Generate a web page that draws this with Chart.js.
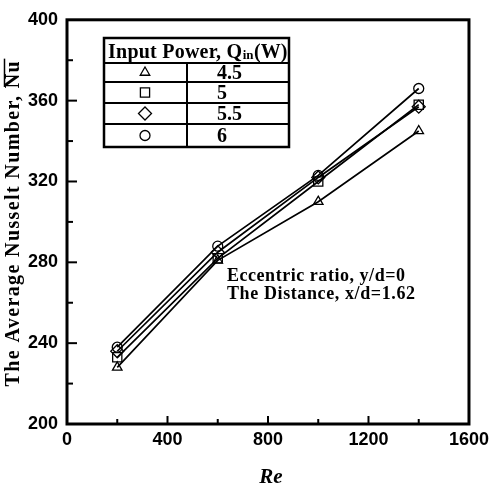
<!DOCTYPE html>
<html>
<head>
<meta charset="utf-8">
<script src="https://cdn.jsdelivr.net/npm/chart.js@4.4.1/dist/chart.umd.min.js"></script>
<style>
  html, body { margin: 0; padding: 0; background: #fff; }
  #wrap { width: 494px; height: 489px; position: relative; }
</style>
</head>
<body>
<div id="wrap"><canvas id="c"></canvas></div>
<script>
// ---- data ----
const reValues = [200, 600, 1000, 1400];
const qLabels = ['4.5', '5', '5.5', '6'];
const nu45 = [228, 281, 310, 345];
const nu5 = [233, 282, 320, 358];
const nu55 = [236, 285, 322, 357];
const nu6 = [238, 288, 323, 366];
const pointStyles = ['triangle', 'rect', 'rectRot', 'circle'];
const xTickValues = [0, 400, 800, 1200, 1600];
const yTickValues = [200, 240, 280, 320, 360, 400];
const yTitle = 'The Average Nusselt Number, ';
const yTitleBar = 'Nu';
const xTitle = 'Re';
const legendHeader = ['Input Power, Q', 'in', '(W)'];
const noteLines = ['Eccentric ratio, y/d=0', 'The Distance, x/d=1.62'];

const seriesValues = [nu45, nu5, nu55, nu6];
const radii = [5.5, 6.5, 6.5, 5];

const datasets = seriesValues.map((vals, i) => ({
  label: qLabels[i],
  data: reValues.map((x, j) => ({ x: x, y: vals[j] })),
  borderColor: '#000',
  borderWidth: 1.7,
  backgroundColor: '#fff',
  pointStyle: pointStyles[i],
  pointRadius: radii[i],
  pointBorderWidth: 1.3,
  pointBackgroundColor: 'rgba(255,255,255,0)',
  pointBorderColor: '#000',
  tension: 0,
  fill: false
}));

function fitText(ctx, text, x, y, target) {
  ctx.letterSpacing = '0px';
  const w = ctx.measureText(text).width;
  let ls = 0;
  if (target && text.length > 1) ls = (target - w) / (text.length - 1);
  ctx.letterSpacing = ls + 'px';
  ctx.fillText(text, x, y);
  const outW = ctx.measureText(text).width;
  ctx.letterSpacing = '0px';
  return outW;
}

const decorPlugin = {
  id: 'decor',
  afterDraw(chart) {
    const ctx = chart.ctx;
    const a = chart.chartArea;
    const xs = chart.scales.x, ys = chart.scales.y;
    ctx.save();
    ctx.strokeStyle = '#000';
    ctx.fillStyle = '#000';
    // inner ticks
    ctx.lineWidth = 2;
    for (let v = 200; v < 1600; v += 200) {
      const px = xs.getPixelForValue(v);
      const len = (v % 400 === 0) ? 8 : 5;
      ctx.beginPath(); ctx.moveTo(px, a.bottom); ctx.lineTo(px, a.bottom - len); ctx.stroke();
    }
    for (let v = 220; v < 400; v += 20) {
      const py = ys.getPixelForValue(v);
      const len = (v % 40 === 0) ? 10 : 6;
      ctx.beginPath(); ctx.moveTo(a.left, py); ctx.lineTo(a.left + len, py); ctx.stroke();
    }
    // frame
    ctx.lineWidth = 3;
    ctx.strokeRect(a.left, a.top, a.right - a.left, a.bottom - a.top);

    // y title
    ctx.save();
    ctx.translate(14, (a.top + a.bottom) / 2 + 2);
    ctx.rotate(-Math.PI / 2);
    ctx.font = 'bold 20px "Liberation Serif"';
    ctx.textBaseline = 'middle';
    ctx.textAlign = 'left';
    const full = yTitle + yTitleBar;
    ctx.letterSpacing = '0px';
    const w0 = ctx.measureText(full).width;
    const target = 325;
    const ls = (target - w0) / (full.length - 1);
    ctx.letterSpacing = ls + 'px';
    const wPre = ctx.measureText(yTitle).width + ls;
    const wBar = ctx.measureText(yTitleBar).width;
    const startX = -target / 2;
    ctx.fillText(full, startX, 0);
    ctx.lineWidth = 1.5;
    ctx.beginPath();
    ctx.moveTo(startX + wPre, -9.5);
    ctx.lineTo(startX + wPre + wBar, -9.5);
    ctx.stroke();
    ctx.letterSpacing = '0px';
    ctx.restore();

    // x title
    ctx.font = 'italic bold 21px "Liberation Serif"';
    ctx.textAlign = 'center';
    ctx.textBaseline = 'middle';
    ctx.fillText(xTitle, (a.left + a.right) / 2 + 3, 478);

    // legend table
    const L = 104, R = 289, T = 38, B = 147, D = 187;
    const rows = [63, 82, 103, 124];
    ctx.fillStyle = '#fff';
    ctx.fillRect(L, T, R - L, B - T);
    ctx.fillStyle = '#000';
    ctx.lineWidth = 2.5;
    ctx.strokeRect(L, T, R - L, B - T);
    ctx.lineWidth = 2;
    rows.forEach(r => { ctx.beginPath(); ctx.moveTo(L, r); ctx.lineTo(R, r); ctx.stroke(); });
    ctx.beginPath(); ctx.moveTo(D, rows[0]); ctx.lineTo(D, B); ctx.stroke();
    // header
    ctx.textAlign = 'left';
    ctx.textBaseline = 'alphabetic';
    ctx.font = 'bold 20px "Liberation Serif"';
    let hx = 108;
    const hy = 58;
    hx += fitText(ctx, legendHeader[0], hx, hy, 134);
    ctx.font = 'bold 13px "Liberation Serif"';
    hx += fitText(ctx, legendHeader[1], hx + 0.5, hy + 1, 0) + 1;
    ctx.font = 'bold 20px "Liberation Serif"';
    fitText(ctx, legendHeader[2], hx, hy, 0);
    // rows
    const bounds = [rows[0], rows[1], rows[2], rows[3], B];
    for (let i = 0; i < qLabels.length; i++) {
      const cy = (bounds[i] + bounds[i + 1]) / 2;
      ctx.strokeStyle = '#000';
      ctx.fillStyle = 'rgba(255,255,255,0)';
      ctx.lineWidth = 1.3;
      Chart.helpers.drawPoint(ctx, { pointStyle: pointStyles[i], radius: radii[i], rotation: 0, borderWidth: 1.3 }, 145, cy);
      ctx.fillStyle = '#000';
      ctx.font = 'bold 20px "Liberation Serif"';
      ctx.textBaseline = 'middle';
      ctx.fillText(qLabels[i], 217, cy + 1);
    }

    // annotation
    ctx.font = 'bold 18px "Liberation Serif"';
    ctx.textBaseline = 'middle';
    ctx.textAlign = 'left';
    fitText(ctx, noteLines[0], 227, 276, 178);
    fitText(ctx, noteLines[1], 227, 294, 188);
    ctx.restore();
  }
};

new Chart(document.getElementById('c'), {
  type: 'line',
  data: { datasets: datasets },
  options: {
    responsive: true,
    maintainAspectRatio: false,
    animation: false,
    devicePixelRatio: 1,
    layout: { autoPadding: false, padding: { top: 16, right: 23, left: 0, bottom: 0 } },
    plugins: { legend: { display: false }, tooltip: { enabled: false } },
    scales: {
      x: {
        type: 'linear', min: 0, max: 1600,
        afterBuildTicks: s => { s.ticks = xTickValues.map(v => ({ value: v })); },
        afterFit: s => { s.height = 65; },
        grid: { display: false, drawTicks: false },
        border: { display: false },
        ticks: { callback: v => String(v), color: '#000', font: { family: '"Liberation Sans"', weight: 'bold', size: 18 }, padding: 5, autoSkip: false, maxRotation: 0 }
      },
      y: {
        type: 'linear', min: 200, max: 400,
        afterBuildTicks: s => { s.ticks = yTickValues.map(v => ({ value: v })); },
        afterFit: s => { s.width = 67; },
        grid: { display: false, drawTicks: false },
        border: { display: false },
        ticks: { callback: v => String(v), color: '#000', font: { family: '"Liberation Sans"', weight: 'bold', size: 18 }, padding: 9, autoSkip: false }
      }
    }
  },
  plugins: [decorPlugin]
});
</script>
</body>
</html>
